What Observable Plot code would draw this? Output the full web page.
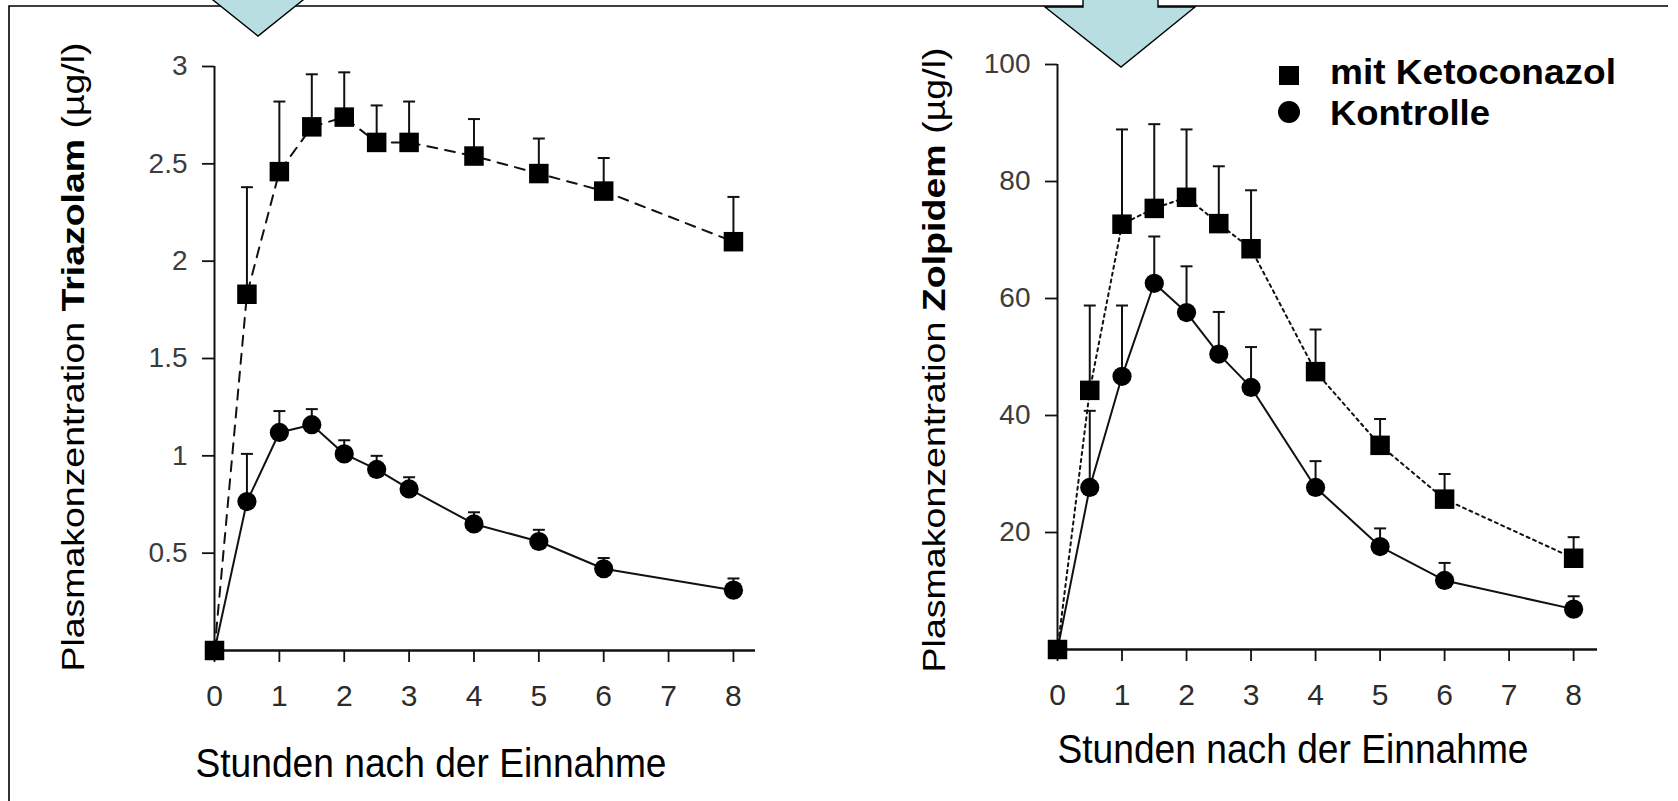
<!DOCTYPE html>
<html>
<head>
<meta charset="utf-8">
<script src="https://cdn.jsdelivr.net/npm/d3@7"></script>
<script src="https://cdn.jsdelivr.net/npm/@observablehq/plot@0.6"></script>
<style>
  html, body { margin: 0; padding: 0; background: #fff; }
  #root { position: relative; width: 1678px; height: 801px; overflow: hidden; background: #fff;
          font-family: "Liberation Sans", Arial, Helvetica, sans-serif; }
  #root > svg { position: absolute; }
</style>
</head>
<body>
<div id="root"></div>
<script>
// ---------- data ----------
const hours = [0, 0.5, 1, 1.5, 2, 2.5, 3, 4, 5, 6, 8];
const xTicks = [0, 1, 2, 3, 4, 5, 6, 7, 8];
const seriesNames = ["mit Ketoconazol", "Kontrolle"];

// Triazolam (µg/l)
const triazolamKeto    = [0, 1.83, 2.46, 2.69, 2.74, 2.61, 2.61, 2.54, 2.45, 2.36, 2.10];
const triazolamKetoTop = [null, 2.38, 2.82, 2.96, 2.97, 2.80, 2.82, 2.73, 2.63, 2.53, 2.33];
const triazolamCtrl    = [0, 0.765, 1.12, 1.16, 1.01, 0.93, 0.83, 0.65, 0.56, 0.42, 0.31];
const triazolamCtrlTop = [null, 1.01, 1.23, 1.24, 1.08, 1.00, 0.89, 0.71, 0.62, 0.475, 0.37];
const triazolamTicks   = [0.5, 1, 1.5, 2, 2.5, 3];

// Zolpidem (µg/l)
const zolpidemKeto    = [0, 44.3, 72.7, 75.4, 77.3, 72.8, 68.5, 47.5, 34.9, 25.7, 15.6];
const zolpidemKetoTop = [null, 58.8, 88.9, 89.8, 88.9, 82.6, 78.5, 54.7, 39.4, 30.0, 19.2];
const zolpidemCtrl    = [0, 27.7, 46.7, 62.6, 57.6, 50.5, 44.8, 27.7, 17.6, 11.8, 6.9];
const zolpidemCtrlTop = [null, 40.8, 58.8, 70.6, 65.5, 57.7, 51.7, 32.2, 20.7, 14.8, 9.1];
const zolpidemTicks   = [20, 40, 60, 80, 100];

// ---------- helpers ----------
const FONT = '"Liberation Sans", Arial, Helvetica, sans-serif';
const capSymbol = { draw(ctx) { ctx.moveTo(-6, 0); ctx.lineTo(6, 0); } };

function panel({keto, ketoTop, ctrl, ctrlTop, yMax, yTicks, xMax, dash,
                marginLeft, marginRight, marginTop, marginBottom}) {
  const rows = hours.map((t, i) => ({t, keto: keto[i], ketoTop: ketoTop[i], ctrl: ctrl[i], ctrlTop: ctrlTop[i]}));
  const withKetoErr = rows.filter(d => d.ketoTop != null);
  const withCtrlErr = rows.filter(d => d.ctrlTop != null);
  return Plot.plot({
    width: 800, height: 801,
    marginLeft, marginRight, marginTop, marginBottom,
    style: {background: "transparent", overflow: "visible", fontFamily: FONT},
    x: {domain: [0, xMax]},
    y: {domain: [0, yMax]},
    marks: [
      Plot.axisY({ticks: yTicks, tickSize: 12, tickPadding: 15, fontSize: 28, label: null,
                  stroke: "#111", strokeWidth: 1.8, fill: "#3c3c3c", tickFormat: d => String(d)}),
      Plot.axisX({ticks: xTicks, tickSize: 12, tickPadding: 22, fontSize: 30, label: null,
                  stroke: "#111", strokeWidth: 1.8, fill: "#2c2c2c", tickFormat: d => String(d)}),
      Plot.ruleX([0], {y1: 0, y2: yMax, stroke: "#111", strokeWidth: 2}),
      Plot.ruleY([0], {stroke: "#111", strokeWidth: 2.6}),
      // error bars (upper)
      Plot.ruleX(withCtrlErr, {x: "t", y1: "ctrl", y2: "ctrlTop", stroke: "#111", strokeWidth: 2}),
      Plot.dot(withCtrlErr, {x: "t", y: "ctrlTop", symbol: capSymbol, stroke: "#111", fill: "none", strokeWidth: 2}),
      Plot.ruleX(withKetoErr, {x: "t", y1: "keto", y2: "ketoTop", stroke: "#111", strokeWidth: 2}),
      Plot.dot(withKetoErr, {x: "t", y: "ketoTop", symbol: capSymbol, stroke: "#111", fill: "none", strokeWidth: 2}),
      // lines
      Plot.line(rows, {x: "t", y: "ctrl", stroke: "#111", strokeWidth: 2}),
      Plot.line(rows, {x: "t", y: "keto", stroke: "#111", strokeWidth: 2, strokeDasharray: dash}),
      // markers
      Plot.dot(rows, {x: "t", y: "ctrl", r: 9.6, fill: "#000", stroke: "none"}),
      Plot.dot(rows, {x: "t", y: "keto", symbol: "square", r: 11, fill: "#000", stroke: "none"})
    ]
  });
}

const root = document.getElementById("root");

const left = panel({
  keto: triazolamKeto, ketoTop: triazolamKetoTop, ctrl: triazolamCtrl, ctrlTop: triazolamCtrlTop,
  yMax: 3, yTicks: triazolamTicks, xMax: 8.34, dash: "10,8",
  marginLeft: 214, marginRight: 45, marginTop: 66, marginBottom: 151
});
left.style.left = "0px"; left.style.top = "0px";
root.appendChild(left);

const right = panel({
  keto: zolpidemKeto, ketoTop: zolpidemKetoTop, ctrl: zolpidemCtrl, ctrlTop: zolpidemCtrlTop,
  yMax: 100, yTicks: zolpidemTicks, xMax: 8.37, dash: "3,4",
  marginLeft: 217, marginRight: 43, marginTop: 64, marginBottom: 152
});
right.style.left = "840px"; right.style.top = "0px";
root.appendChild(right);

// ---------- overlay: frame, callout arrows, axis titles, legend ----------
const ns = "http://www.w3.org/2000/svg";
const ov = d3.select(root).append("svg")
  .attr("xmlns", ns).attr("width", 1678).attr("height", 801)
  .style("left", "0px").style("top", "0px").style("font-family", FONT);

const blue = "#b9dee2";
// frame
ov.append("path").attr("d", "M9,801 V6 H1083 M1158,6 H1668").attr("fill", "none")
  .attr("stroke", "#000").attr("stroke-width", 1.6);
// right callout arrow (shaft + head)
ov.append("rect").attr("x", 1083).attr("y", -2).attr("width", 75).attr("height", 9).attr("fill", blue);
ov.append("path").attr("d", "M1083,7 L1045,7 L1121,67 L1195,7 L1158,7 Z").attr("fill", blue).attr("stroke", "none");
ov.append("path").attr("d", "M1083,0 V7 H1045 L1121,67 L1195,7 H1158 V0").attr("fill", "none")
  .attr("stroke", "#000").attr("stroke-width", 1.4);
// left callout arrow head
ov.append("path").attr("d", "M183,-24 L333,-24 L258,36 Z").attr("fill", blue)
  .attr("stroke", "#000").attr("stroke-width", 1.4);

// y-axis titles
function yTitle(x, y, drug, len) {
  const t = ov.append("text").attr("transform", `translate(${x},${y}) rotate(-90)`)
    .attr("text-anchor", "middle").attr("dominant-baseline", "central")
    .attr("font-size", 32).attr("fill", "#000")
    .attr("textLength", len).attr("lengthAdjust", "spacingAndGlyphs");
  t.append("tspan").text("Plasmakonzentration ");
  t.append("tspan").attr("font-weight", "bold").text(drug);
  t.append("tspan").text(" (µg/l)");
}
yTitle(73, 357, "Triazolam", 629);
yTitle(934, 360, "Zolpidem", 625);

// x-axis titles
function xTitle(x, y) {
  ov.append("text").attr("x", x).attr("y", y)
    .attr("text-anchor", "middle").attr("dominant-baseline", "central")
    .attr("font-size", 40).attr("fill", "#000")
    .attr("textLength", 471).attr("lengthAdjust", "spacingAndGlyphs")
    .text("Stunden nach der Einnahme");
}
xTitle(431, 763);
xTitle(1293, 749);

// legend
ov.append("rect").attr("x", 1279).attr("y", 66).attr("width", 20).attr("height", 19).attr("fill", "#000");
ov.append("circle").attr("cx", 1289).attr("cy", 112).attr("r", 11).attr("fill", "#000");
ov.append("text").attr("x", 1330).attr("y", 84).attr("font-size", 35).attr("font-weight", "bold")
  .attr("textLength", 286).attr("lengthAdjust", "spacingAndGlyphs").text(seriesNames[0]);
ov.append("text").attr("x", 1330).attr("y", 125).attr("font-size", 35).attr("font-weight", "bold")
  .attr("textLength", 160).attr("lengthAdjust", "spacingAndGlyphs").text(seriesNames[1]);
</script>
</body>
</html>
